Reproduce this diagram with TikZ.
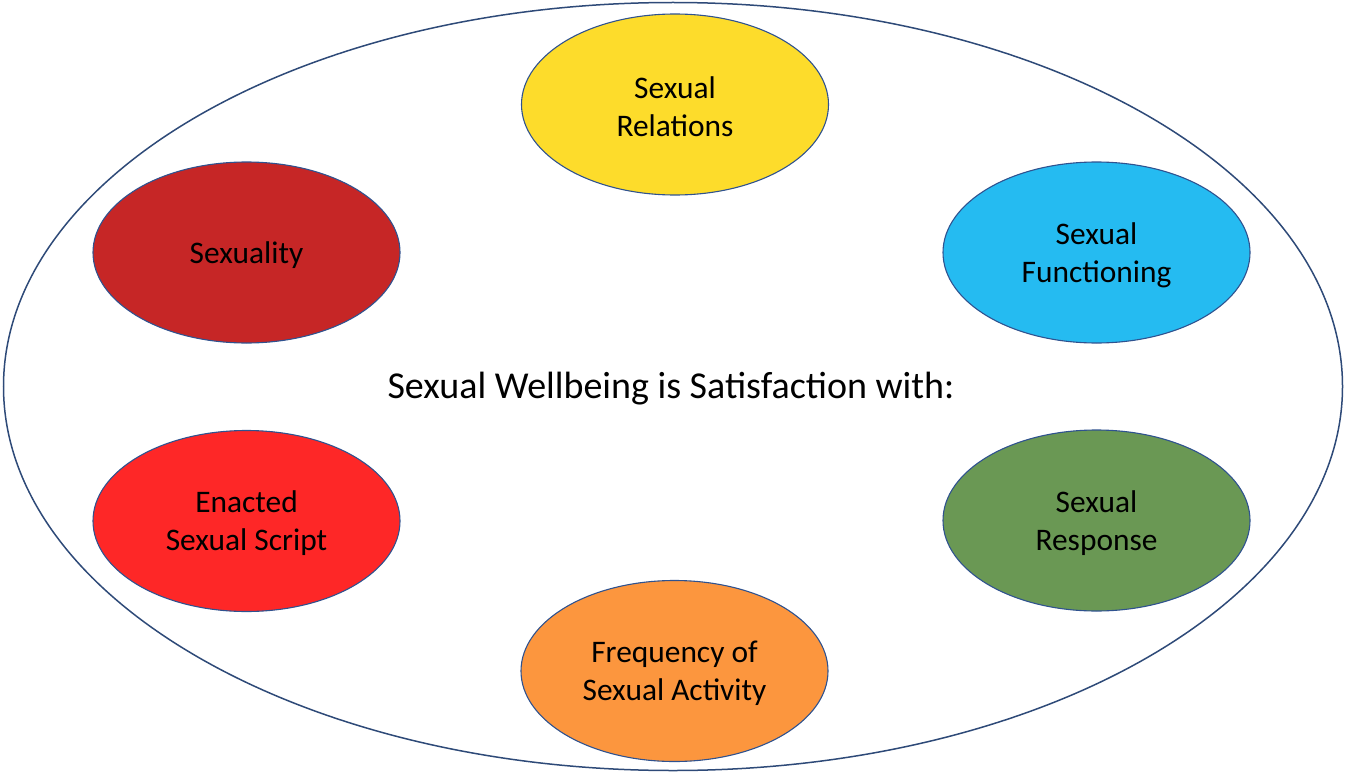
\documentclass[tikz,border=0pt]{standalone}
\usepackage{fontspec}
\setmainfont{Carlito}
\usetikzlibrary{shapes.geometric}
\definecolor{edgeblue}{HTML}{2F528F}
\definecolor{outerblue}{HTML}{2E4A78}
\definecolor{cyellow}{HTML}{FDDC2B}
\definecolor{cdarkred}{HTML}{C62626}
\definecolor{cblue}{HTML}{25BBF1}
\definecolor{cred}{HTML}{FE2727}
\definecolor{cgreen}{HTML}{6A9854}
\definecolor{corange}{HTML}{FC963E}
\tikzset{
  topic/.style={ellipse, draw=edgeblue, line width=1.1pt, inner sep=0pt,
    minimum width=307pt, minimum height=181pt},
  topiclabel/.style={align=center, inner sep=0pt, yshift=-2.5pt,
    font=\fontsize{31.4}{38}\selectfont, text=black},
  outer/.style={ellipse, draw=outerblue, line width=1.5pt, inner sep=0pt,
    minimum width=1339pt, minimum height=768pt},
  title/.style={font=\fontsize{38}{46}\selectfont, text=black, inner sep=0pt}
}
\begin{document}
\begin{tikzpicture}[x=1pt,y=-1pt]
\useasboundingbox (0,0) rectangle (1346,773);
\node[outer] (frame) at (673,386.5) {};
\node[topic, fill=cyellow] (rel) at (675,104.5) {};
\node[topic, fill=cdarkred] (sex) at (246.5,252.5) {};
\node[topic, fill=cblue] (func) at (1096.5,252.5) {};
\node[topic, fill=cred] (ess) at (246.5,521) {};
\node[topic, fill=cgreen] (resp) at (1096.5,520.5) {};
\node[topic, fill=corange] (freq) at (674.5,671) {};
\node[topiclabel] (relt) at (rel.center) {Sexual\\Relations};
\node[topiclabel] (sext) at (sex.center) {Sexuality};
\node[topiclabel] (funct) at (func.center) {Sexual\\Functioning};
\node[topiclabel] (esst) at (ess.center) {Enacted\\Sexual Script};
\node[topiclabel] (respt) at (resp.center) {Sexual\\Response};
\node[topiclabel] (freqt) at (freq.center) {Frequency of\\Sexual Activity};
\node[title] (main) at (671,389) {Sexual Wellbeing is Satisfaction with:};
\end{tikzpicture}
\end{document}
